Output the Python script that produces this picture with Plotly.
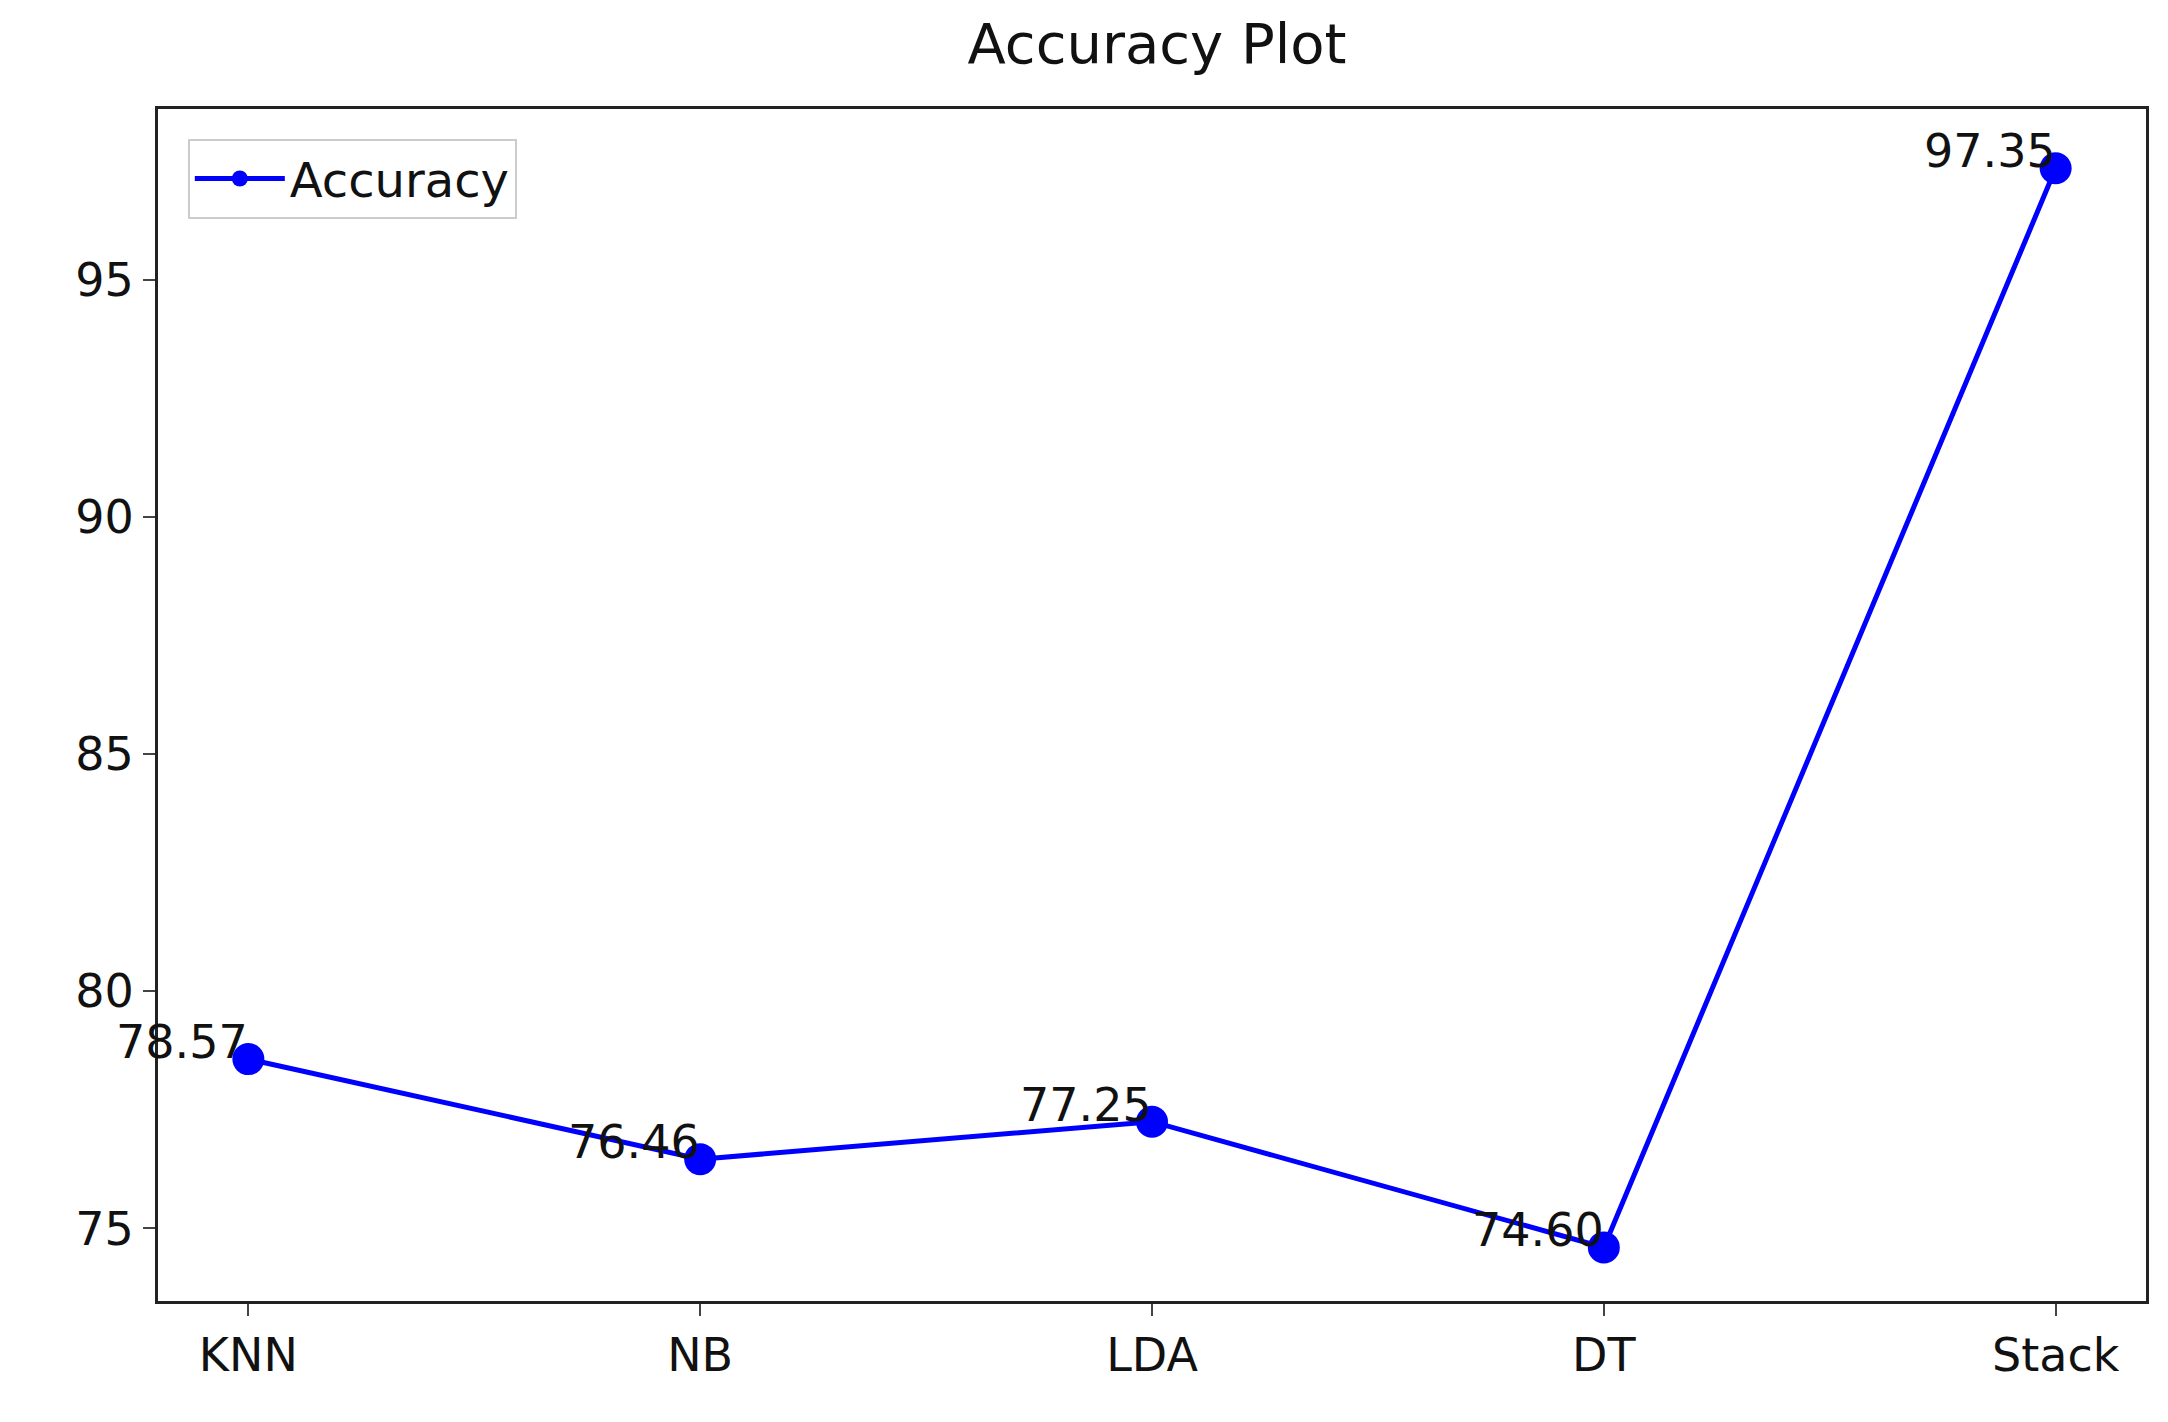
import plotly.graph_objects as go

models = ["KNN", "NB", "LDA", "DT", "Stack"]
accuracy = [78.57, 76.46, 77.25, 74.60, 97.35]
labels = ["78.57", "76.46", "77.25", "74.60", "97.35"]

fig = go.Figure()
fig.add_trace(go.Scatter(x=list(range(len(models))), y=accuracy, mode="lines+markers",
                         name="Accuracy", line=dict(color="#0000ff", width=5),
                         marker=dict(color="#0000ff", size=32)))
for i, (v, t) in enumerate(zip(accuracy, labels)):
    fig.add_annotation(x=i, y=v, text=t, showarrow=False, xanchor="right", yanchor="bottom",
                       xshift=2, yshift=-12, font=dict(size=46, color="#111111"))

font = "DejaVu Sans"
fig.update_layout(
    width=2168, height=1422, paper_bgcolor="white", plot_bgcolor="white",
    margin=dict(l=150, r=30, t=101, b=129),
    font=dict(family=font, size=46, color="#111111"),
    title=dict(text="Accuracy Plot", x=0.53, xanchor="center", y=0.975, yanchor="middle",
               font=dict(size=56)),
    showlegend=True,
    legend=dict(x=0.015, y=0.975, xanchor="left", yanchor="top", bgcolor="white",
                bordercolor="#cccccc", borderwidth=2, font=dict(size=48), itemwidth=90),
    xaxis=dict(range=[-0.2, 4.2], tickmode="array", tickvals=list(range(len(models))),
               ticktext=models, showgrid=False, zeroline=False, showline=True, linecolor="#222222",
               linewidth=3, mirror=True, ticks="outside", ticklen=12, tickwidth=2),
    yaxis=dict(range=[73.47, 98.6], tickvals=[75, 80, 85, 90, 95], showgrid=False, zeroline=False,
               showline=True, linecolor="#222222", linewidth=3, mirror=True, ticks="outside",
               ticklen=12, tickwidth=2),
)
fig.write_html("out.html")
